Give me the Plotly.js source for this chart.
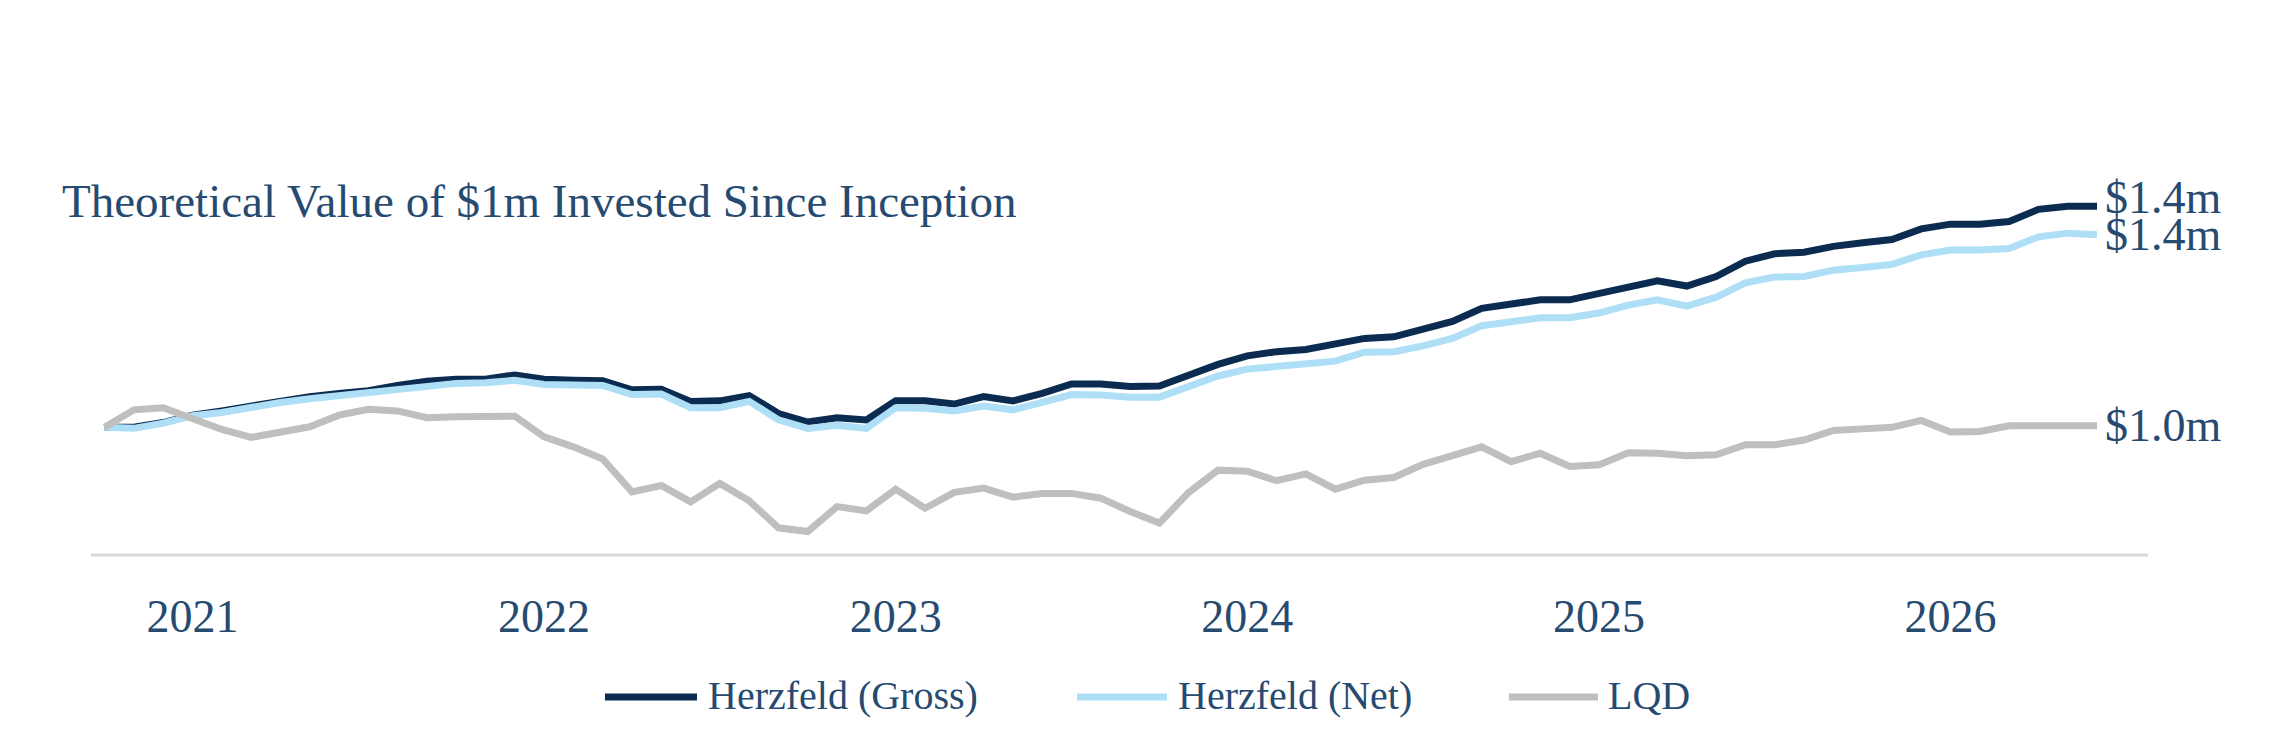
<!DOCTYPE html>
<html>
<head>
<meta charset="utf-8">
<script src="https://cdn.plot.ly/plotly-3.0.1.min.js"></script>
<style>
  html, body { margin: 0; padding: 0; background: #fff; }
  #chart { width: 2292px; height: 741px; }
</style>
</head>
<body>
<div id="chart"></div>
<script>
// monthly points, Oct 2020 .. Jun 2026
const months = [
    '2020-10', '2020-11', '2020-12',
    '2021-01', '2021-02', '2021-03', '2021-04', '2021-05', '2021-06', '2021-07', '2021-08', '2021-09', '2021-10', '2021-11', '2021-12',
    '2022-01', '2022-02', '2022-03', '2022-04', '2022-05', '2022-06', '2022-07', '2022-08', '2022-09', '2022-10', '2022-11', '2022-12',
    '2023-01', '2023-02', '2023-03', '2023-04', '2023-05', '2023-06', '2023-07', '2023-08', '2023-09', '2023-10', '2023-11', '2023-12',
    '2024-01', '2024-02', '2024-03', '2024-04', '2024-05', '2024-06', '2024-07', '2024-08', '2024-09', '2024-10', '2024-11', '2024-12',
    '2025-01', '2025-02', '2025-03', '2025-04', '2025-05', '2025-06', '2025-07', '2025-08', '2025-09', '2025-10', '2025-11', '2025-12',
    '2026-01', '2026-02', '2026-03', '2026-04', '2026-05', '2026-06'
]

// value of $1m, in $m
const gross = [
    1.000, 1.000, 1.009,
    1.023, 1.031, 1.040, 1.052, 1.058, 1.064, 1.069, 1.079, 1.087, 1.091, 1.091, 1.099,
    1.091, 1.089, 1.088, 1.071, 1.072, 1.049, 1.050, 1.060, 1.026, 1.010, 1.018, 1.014,
    1.050, 1.050, 1.044, 1.058, 1.050, 1.064, 1.082, 1.082, 1.077, 1.078, 1.099, 1.119,
    1.135, 1.143, 1.147, 1.156, 1.168, 1.171, 1.185, 1.200, 1.225, 1.233, 1.241, 1.241,
    1.253, 1.267, 1.277, 1.267, 1.285, 1.314, 1.328, 1.331, 1.342, 1.349, 1.355, 1.375,
    1.384, 1.384, 1.389, 1.412, 1.418, 1.418
]
const net = [
    1.000, 0.998, 1.008,
    1.022, 1.028, 1.038, 1.047, 1.054, 1.060, 1.064, 1.072, 1.079, 1.083, 1.084, 1.089,
    1.081, 1.080, 1.079, 1.062, 1.063, 1.037, 1.037, 1.049, 1.014, 0.998, 1.004, 0.998,
    1.037, 1.036, 1.031, 1.040, 1.033, 1.047, 1.062, 1.061, 1.057, 1.057, 1.077, 1.097,
    1.110, 1.116, 1.119, 1.125, 1.142, 1.143, 1.154, 1.168, 1.192, 1.198, 1.207, 1.207,
    1.216, 1.231, 1.241, 1.229, 1.246, 1.273, 1.284, 1.285, 1.297, 1.302, 1.308, 1.326,
    1.335, 1.335, 1.338, 1.360, 1.367, 1.364
]
const lqd = [
    1.000, 1.033, 1.037,
    1.017, 0.996, 0.981, 0.992, 1.001, 1.023, 1.034, 1.031, 1.018, 1.020, 1.021, 1.021,
    0.982, 0.963, 0.940, 0.878, 0.890, 0.859, 0.894, 0.861, 0.810, 0.803, 0.850, 0.842,
    0.883, 0.847, 0.877, 0.885, 0.868, 0.875, 0.875, 0.866, 0.841, 0.819, 0.877, 0.919,
    0.917, 0.899, 0.912, 0.883, 0.900, 0.905, 0.930, 0.945, 0.963, 0.935, 0.951, 0.926,
    0.929, 0.952, 0.951, 0.946, 0.948, 0.967, 0.967, 0.976, 0.994, 0.997, 1.000, 1.013,
    0.991, 0.992, 1.003, 1.003, 1.003, 1.003
]

const seriesNames = ['Herzfeld (Gross)', 'Herzfeld (Net)', 'LQD']
const seriesColors = ['#0b2c50', '#aedff6', '#bfbfbf']
const yearTicks = ['2021-01', '2022-01', '2023-01', '2024-01', '2025-01', '2026-01']
const yearLabels = ['2021', '2022', '2023', '2024', '2025', '2026']

const W = 2292, H = 741
const margin = {l: 91, r: 144, t: 100, b: 186}
const textColor = '#264a70'
const serif = '"Liberation Serif", "Times New Roman", serif'

// page pixels -> paper coords (for legend bits)
function px2paperX(px) {
    return (px - margin.l) / (W - margin.l - margin.r)
}
function px2paperY(py) {
    return (H - margin.b - py) / (H - margin.t - margin.b)
}

const allSeries = [gross, net, lqd]
const traces = allSeries.map((ys, k) => ({
    x: months,
    y: ys,
    type: 'scatter',
    mode: 'lines',
    name: seriesNames[k],
    line: {color: seriesColors[k], width: 7},
    hoverinfo: 'skip',
}))

// end-of-line value labels
const endShift = [9, 0, 0]
const annotations = allSeries.map((ys, k) => ({
    x: months[months.length - 1],
    y: ys[ys.length - 1],
    xref: 'x', yref: 'y',
    text: '$' + ys[ys.length - 1].toFixed(1) + 'm',
    showarrow: false,
    xanchor: 'left',
    yanchor: 'middle',
    xshift: 6,
    yshift: endShift[k],
    font: {family: serif, size: 46, color: textColor},
}))

// hand-made legend so the line samples can be long and thick
const legendLineX = [[605, 697], [1077, 1167], [1509, 1598]]
const legendTextX = [706, 1176, 1606]
const legendY = 697
const shapes = [
    {
        type: 'line', xref: 'paper', yref: 'paper',
        x0: 0, x1: 1, y0: 0, y1: 0,
        line: {color: '#d9d9d9', width: 3},
    },
]
seriesNames.forEach((name, k) => {
    shapes.push({
        type: 'line', xref: 'paper', yref: 'paper',
        x0: px2paperX(legendLineX[k][0]), x1: px2paperX(legendLineX[k][1]),
        y0: px2paperY(legendY), y1: px2paperY(legendY),
        line: {color: seriesColors[k], width: 7},
    })
    annotations.push({
        x: px2paperX(legendTextX[k]), y: px2paperY(legendY - 2),
        xref: 'paper', yref: 'paper',
        text: name,
        showarrow: false,
        xanchor: 'left', yanchor: 'middle',
        font: {family: serif, size: 40, color: textColor},
    })
})

const layout = {
    width: W,
    height: H,
    margin: margin,
    paper_bgcolor: '#ffffff',
    plot_bgcolor: '#ffffff',
    showlegend: false,
    title: {
        text: 'Theoretical Value of $1m Invested Since Inception',
        xref: 'container', yref: 'container',
        x: 62 / W, xanchor: 'left',
        y: 1 - 201 / H, yanchor: 'middle',
        font: {family: serif, size: 47, color: textColor},
    },
    xaxis: {
        type: 'category',
        range: [-0.464, 69.74],
        tickvals: yearTicks,
        ticktext: yearLabels,
        showgrid: false,
        zeroline: false,
        showline: false,
        ticks: '',
        ticklabelstandoff: 30,
        tickfont: {family: serif, size: 46, color: textColor},
        fixedrange: true,
    },
    yaxis: {
        range: [0.7586, 1.6187],
        visible: false,
        showgrid: false,
        zeroline: false,
        fixedrange: true,
    },
    shapes: shapes,
    annotations: annotations,
}

Plotly.newPlot('chart', traces, layout, {staticPlot: true, displayModeBar: false})
</script>
</body>
</html>
